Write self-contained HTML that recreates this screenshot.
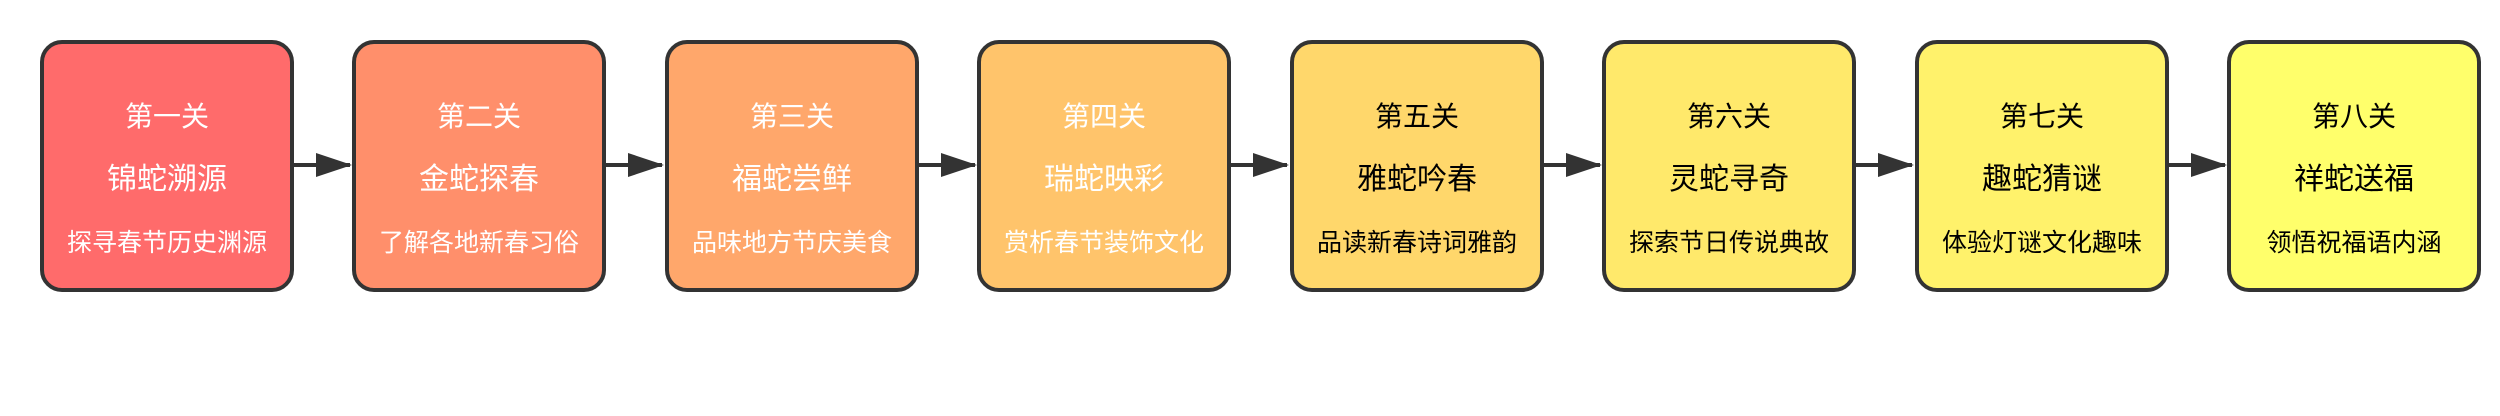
<!DOCTYPE html>
<html><head><meta charset="utf-8"><style>
html,body{margin:0;padding:0;background:#fff;width:2500px;height:416px;overflow:hidden}
text{font-family:"Liberation Sans","Noto Sans CJK SC",sans-serif;text-anchor:middle}
</style></head><body>
<svg width="2500" height="416" xmlns="http://www.w3.org/2000/svg">
<g stroke="#333" stroke-width="4" fill="none">
<line x1="292" y1="165" x2="350" y2="165"/><path d="M316,153L352,165L316,177z" fill="#333" stroke="none"/>
<line x1="604" y1="165" x2="662" y2="165"/><path d="M628,153L664,165L628,177z" fill="#333" stroke="none"/>
<line x1="917" y1="165" x2="975" y2="165"/><path d="M941,153L977,165L941,177z" fill="#333" stroke="none"/>
<line x1="1229" y1="165" x2="1287" y2="165"/><path d="M1253,153L1289,165L1253,177z" fill="#333" stroke="none"/>
<line x1="1542" y1="165" x2="1600" y2="165"/><path d="M1566,153L1602,165L1566,177z" fill="#333" stroke="none"/>
<line x1="1854" y1="165" x2="1912" y2="165"/><path d="M1878,153L1914,165L1878,177z" fill="#333" stroke="none"/>
<line x1="2167" y1="165" x2="2225" y2="165"/><path d="M2191,153L2227,165L2191,177z" fill="#333" stroke="none"/>
</g>
<g stroke="#333" stroke-width="4">
<rect x="42" y="42" width="250" height="248" rx="20" fill="#FF6B6B"/>
<rect x="354" y="42" width="250" height="248" rx="20" fill="#FF8F6B"/>
<rect x="667" y="42" width="250" height="248" rx="20" fill="#FFA76B"/>
<rect x="979" y="42" width="250" height="248" rx="20" fill="#FFC46B"/>
<rect x="1292" y="42" width="250" height="248" rx="20" fill="#FFD76B"/>
<rect x="1604" y="42" width="250" height="248" rx="20" fill="#FFE96B"/>
<rect x="1917" y="42" width="250" height="248" rx="20" fill="#FFF26B"/>
<rect x="2229" y="42" width="250" height="248" rx="20" fill="#FFFF6B"/>
</g>
<g fill="#fff">
<text x="167" y="126" font-size="28">第一关</text><text x="167" y="189" font-size="30">锦蛇溯源</text><text x="167" y="251" font-size="25">探寻春节历史渊源</text>
<text x="479" y="126" font-size="28">第二关</text><text x="479" y="189" font-size="30">金蛇探春</text><text x="479" y="251" font-size="25">了解各地新春习俗</text>
<text x="792" y="126" font-size="28">第三关</text><text x="792" y="189" font-size="30">福蛇尝鲜</text><text x="792" y="251" font-size="25">品味地方节庆美食</text>
<text x="1104" y="126" font-size="28">第四关</text><text x="1104" y="189" font-size="30">瑞蛇映彩</text><text x="1104" y="251" font-size="25">赏析春节装饰文化</text>
</g>
<g fill="#000">
<text x="1417" y="126" font-size="28">第五关</text><text x="1417" y="189" font-size="30">雅蛇吟春</text><text x="1417" y="251" font-size="25">品读新春诗词雅韵</text>
<text x="1729" y="126" font-size="28">第六关</text><text x="1729" y="189" font-size="30">灵蛇寻奇</text><text x="1729" y="251" font-size="25">探索节日传说典故</text>
<text x="2042" y="126" font-size="28">第七关</text><text x="2042" y="189" font-size="30">趣蛇猜谜</text><text x="2042" y="251" font-size="25">体验灯谜文化趣味</text>
<text x="2354" y="126" font-size="28">第八关</text><text x="2354" y="189" font-size="30">祥蛇送福</text><text x="2354" y="251" font-size="25">领悟祝福语内涵</text>
</g>
</svg>
</body></html>
